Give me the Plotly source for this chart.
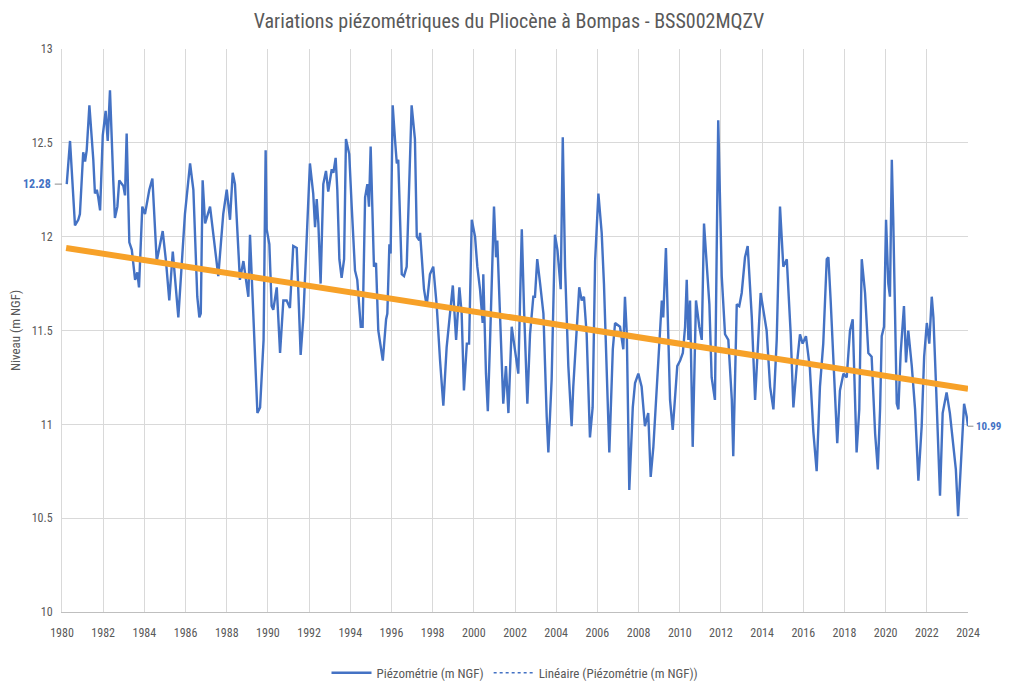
import plotly.graph_objects as go

# --- data ---
years = [
    1980.23, 1980.39, 1980.63, 1980.79, 1980.87, 1981.03, 1981.12, 1981.20, 1981.33, 1981.52,
    1981.60, 1981.69, 1981.76, 1981.85, 1981.98, 1982.12, 1982.22, 1982.33, 1982.49, 1982.57,
    1982.69, 1982.78, 1982.98, 1983.06, 1983.14, 1983.27, 1983.39, 1983.55, 1983.66, 1983.74,
    1983.90, 1984.03, 1984.24, 1984.39, 1984.60, 1984.89, 1985.05, 1985.21, 1985.38, 1985.65,
    1985.97, 1986.22, 1986.38, 1986.57, 1986.67, 1986.74, 1986.83, 1986.95, 1987.19, 1987.59,
    1987.83, 1988.00, 1988.16, 1988.29, 1988.40, 1988.64, 1988.81, 1988.97, 1989.05, 1989.13,
    1989.29, 1989.49, 1989.62, 1989.79, 1989.89, 1989.94, 1990.07, 1990.18, 1990.26, 1990.43,
    1990.59, 1990.75, 1990.91, 1991.07, 1991.23, 1991.40, 1991.59, 1991.72, 1992.04, 1992.20,
    1992.29, 1992.37, 1992.45, 1992.56, 1992.69, 1992.82, 1992.93, 1993.10, 1993.18, 1993.29,
    1993.37, 1993.47, 1993.58, 1993.70, 1993.79, 1993.95, 1994.07, 1994.23, 1994.34, 1994.51,
    1994.60, 1994.72, 1994.83, 1994.91, 1994.99, 1995.09, 1995.15, 1995.25, 1995.36, 1995.58,
    1995.74, 1995.80, 1995.90, 1995.96, 1996.06, 1996.17, 1996.26, 1996.33, 1996.50, 1996.61,
    1996.74, 1996.98, 1997.14, 1997.23, 1997.35, 1997.39, 1997.58, 1997.71, 1997.87, 1998.03,
    1998.20, 1998.36, 1998.52, 1998.68, 1998.98, 1999.14, 1999.30, 1999.41, 1999.52, 1999.66,
    1999.77, 1999.90, 2000.06, 2000.17, 2000.30, 2000.43, 2000.46, 2000.59, 2000.68, 2000.79,
    2000.84, 2000.98, 2001.08, 2001.14, 2001.24, 2001.36, 2001.43, 2001.56, 2001.68, 2001.84,
    2002.00, 2002.08, 2002.16, 2002.24, 2002.33, 2002.44, 2002.60, 2002.73, 2002.89, 2002.97,
    2003.08, 2003.22, 2003.38, 2003.54, 2003.62, 2003.78, 2003.94, 2004.06, 2004.15, 2004.22,
    2004.32, 2004.43, 2004.59, 2004.75, 2004.83, 2005.00, 2005.12, 2005.24, 2005.35, 2005.48,
    2005.64, 2005.77, 2005.89, 2006.05, 2006.21, 2006.32, 2006.45, 2006.58, 2006.75, 2006.86,
    2007.10, 2007.26, 2007.34, 2007.43, 2007.55, 2007.72, 2007.83, 2007.99, 2008.15, 2008.31,
    2008.47, 2008.59, 2008.72, 2008.88, 2009.01, 2009.13, 2009.20, 2009.33, 2009.45, 2009.53,
    2009.66, 2009.77, 2009.88, 2010.02, 2010.15, 2010.26, 2010.34, 2010.42, 2010.50, 2010.63,
    2010.79, 2010.95, 2011.07, 2011.18, 2011.31, 2011.44, 2011.55, 2011.71, 2011.87, 2012.04,
    2012.20, 2012.36, 2012.53, 2012.60, 2012.77, 2012.89, 2013.01, 2013.17, 2013.30, 2013.50,
    2013.66, 2013.82, 2013.93, 2014.06, 2014.22, 2014.39, 2014.55, 2014.71, 2014.87, 2015.03,
    2015.20, 2015.27, 2015.39, 2015.52, 2015.68, 2015.84, 2015.97, 2016.13, 2016.32, 2016.49,
    2016.65, 2016.81, 2016.97, 2017.14, 2017.22, 2017.33, 2017.46, 2017.59, 2017.65, 2017.78,
    2017.95, 2018.11, 2018.27, 2018.40, 2018.51, 2018.59, 2018.72, 2018.84, 2019.00, 2019.16,
    2019.32, 2019.49, 2019.62, 2019.73, 2019.81, 2019.92, 2020.02, 2020.13, 2020.21, 2020.30,
    2020.37, 2020.46, 2020.54, 2020.62, 2020.73, 2020.89, 2020.99, 2021.10, 2021.27, 2021.43,
    2021.59, 2021.75, 2021.87, 2022.00, 2022.12, 2022.24, 2022.32, 2022.45, 2022.56, 2022.64,
    2022.77, 2022.96, 2023.12, 2023.28, 2023.41, 2023.52, 2023.60, 2023.72, 2023.81, 2023.94,
    2024.00,
]

levels = [
    12.28, 12.51, 12.06, 12.09, 12.12, 12.45, 12.40, 12.46, 12.70, 12.41,
    12.23, 12.25, 12.21, 12.14, 12.54, 12.67, 12.51, 12.78, 12.30, 12.10,
    12.16, 12.30, 12.27, 12.22, 12.55, 11.97, 11.93, 11.77, 11.81, 11.73,
    12.16, 12.12, 12.25, 12.31, 11.87, 12.03, 11.87, 11.66, 11.92, 11.57,
    12.12, 12.39, 12.25, 11.68, 11.57, 11.59, 12.30, 12.07, 12.16, 11.79,
    12.12, 12.25, 12.09, 12.34, 12.28, 11.77, 11.87, 11.75, 11.68, 12.01,
    11.61, 11.06, 11.09, 11.45, 12.46, 12.04, 11.96, 11.63, 11.61, 11.73,
    11.38, 11.66, 11.66, 11.62, 11.95, 11.94, 11.37, 11.57, 12.39, 12.23,
    12.05, 12.20, 12.07, 11.75, 12.28, 12.35, 12.24, 12.36, 12.34, 12.42,
    12.25, 11.88, 11.78, 11.88, 12.52, 12.44, 12.16, 11.82, 11.77, 11.52,
    11.52, 12.21, 12.28, 12.16, 12.48, 11.98, 11.84, 11.86, 11.50, 11.34,
    11.56, 11.59, 11.96, 11.91, 12.70, 12.52, 12.39, 12.41, 11.80, 11.79,
    11.84, 12.70, 12.52, 12.00, 11.98, 12.02, 11.72, 11.63, 11.80, 11.84,
    11.63, 11.34, 11.10, 11.41, 11.74, 11.45, 11.73, 11.59, 11.18, 11.43,
    11.43, 12.09, 12.00, 11.84, 11.72, 11.54, 11.80, 11.27, 11.07, 11.45,
    11.68, 12.16, 11.89, 11.98, 11.68, 11.31, 11.11, 11.31, 11.06, 11.52,
    11.40, 11.34, 11.27, 11.63, 12.04, 11.61, 11.11, 11.48, 11.68, 11.68,
    11.88, 11.75, 11.59, 11.04, 10.85, 11.24, 12.01, 11.93, 11.79, 11.72,
    12.53, 11.84, 11.31, 10.99, 11.20, 11.52, 11.73, 11.66, 11.68, 11.48,
    10.93, 11.09, 11.87, 12.23, 12.02, 11.75, 11.31, 10.85, 11.40, 11.54,
    11.52, 11.40, 11.68, 11.48, 10.65, 11.09, 11.22, 11.27, 11.20, 10.99,
    11.06, 10.72, 10.88, 11.17, 11.45, 11.66, 11.57, 11.94, 11.45, 11.13,
    10.97, 11.15, 11.31, 11.34, 11.38, 11.52, 11.77, 11.45, 11.66, 10.88,
    11.66, 11.52, 11.45, 12.07, 11.84, 11.64, 11.25, 11.13, 12.62, 11.79,
    11.48, 11.45, 11.13, 10.83, 11.64, 11.63, 11.70, 11.89, 11.95, 11.57,
    11.13, 11.43, 11.70, 11.61, 11.50, 11.20, 11.08, 11.45, 12.16, 11.84,
    11.88, 11.73, 11.48, 11.09, 11.31, 11.48, 11.43, 11.47, 11.30, 10.96,
    10.75, 11.20, 11.43, 11.88, 11.89, 11.66, 11.33, 11.04, 10.90, 11.18,
    11.27, 11.25, 11.50, 11.56, 11.08, 10.85, 11.08, 11.88, 11.70, 11.38,
    11.36, 10.95, 10.76, 11.08, 11.47, 11.52, 12.09, 11.75, 11.68, 12.41,
    12.09, 11.57, 11.11, 11.08, 11.38, 11.63, 11.33, 11.50, 11.31, 11.08,
    10.70, 10.99, 11.36, 11.54, 11.43, 11.68, 11.57, 11.20, 10.81, 10.62,
    11.06, 11.17, 11.06, 10.90, 10.76, 10.51, 10.69, 10.97, 11.11, 11.04,
    10.99,
]

# linear trend (orange line) end values
trend_years = [1980.2, 2024.0]
trend_levels = [11.94, 11.19]

x_ticks = list(range(1980, 2025, 2))
y_ticks = [10, 10.5, 11, 11.5, 12, 12.5, 13]
y_tick_text = ["10", "10.5", "11", "11.5", "12", "12.5", "13"]
first_label = "12.28"
last_label = "10.99"

title_text = "Variations piézométriques du Pliocène à Bompas - BSS002MQZV"
series_name = "Piézométrie (m NGF)"
trend_name = "Linéaire (Piézométrie (m NGF))"
y_title = "Niveau (m NGF)"

FONT = "Roboto Condensed, Liberation Sans Narrow, Arial Narrow, Roboto, sans-serif"
GREY = "#595959"
BLUE = "#4472C4"
ORANGE = "#F7A128"

fig = go.Figure()

fig.add_trace(go.Scatter(
    x=years, y=levels, mode="lines", name=series_name,
    line=dict(color=BLUE, width=2.4),
))
# legend-only entry for the dotted Excel trendline
fig.add_trace(go.Scatter(
    x=[None], y=[None], mode="lines", name=trend_name,
    line=dict(color=BLUE, width=1.5, dash="dot"),
))
# orange trend line drawn over the series
fig.add_trace(go.Scatter(
    x=trend_years, y=trend_levels, mode="lines", showlegend=False,
    line=dict(color=ORANGE, width=6),
))

# labels for first and last values
fig.add_annotation(
    x=0, y=float(first_label), xref="paper", yref="y",
    text="<b>" + first_label + "</b>", showarrow=False,
    xanchor="right", xshift=-9, font=dict(family=FONT, size=12, color=BLUE),
)
fig.add_annotation(
    x=1, y=float(last_label), xref="paper", yref="y",
    text="<b>" + last_label + "</b>", showarrow=False,
    xanchor="left", xshift=6, font=dict(family=FONT, size=11, color=BLUE),
)
fig.add_shape(type="line", xref="paper", yref="y", x0=-0.008, x1=0, y0=float(first_label),
              y1=float(first_label), line=dict(color="#8C8C8C", width=1))
fig.add_shape(type="line", xref="paper", yref="y", x0=1, x1=1.006, y0=float(last_label),
              y1=float(last_label), line=dict(color="#8C8C8C", width=1))

# the page body adds an 8 px offset, so the figure is 8 px smaller on each axis
fig.update_layout(
    width=1002, height=675,
    paper_bgcolor="white", plot_bgcolor="white",
    margin=dict(l=54, r=42, t=41, b=71, autoexpand=False),
    title=dict(text=title_text, x=0.5, xanchor="center", y=0.981, yanchor="middle",
               font=dict(family=FONT, size=20, color=GREY)),
    font=dict(family=FONT, size=12, color=GREY),
    showlegend=True,
    legend=dict(orientation="h", x=0.5, xanchor="center", y=-0.108, yanchor="middle",
                itemwidth=40, font=dict(family=FONT, size=13, color=GREY)),
    xaxis=dict(range=[1980, 2024], tickmode="array", tickvals=x_ticks,
               ticktext=[str(t) for t in x_ticks], automargin=False,
               showgrid=True, gridcolor="#D9D9D9", gridwidth=1,
               showline=True, linecolor="#BFBFBF", linewidth=1, mirror=False,
               zeroline=False, ticks="", ticklabelstandoff=10,
               tickfont=dict(size=12, color=GREY)),
    yaxis=dict(range=[10, 13], tickmode="array", tickvals=y_ticks,
               ticktext=y_tick_text, automargin=False,
               showgrid=True, gridcolor="#D9D9D9", gridwidth=1,
               showline=True, linecolor="#D9D9D9", linewidth=1,
               zeroline=False, ticks="", ticklabelstandoff=6,
               title=dict(text=y_title, standoff=14, font=dict(size=13, color=GREY)),
               tickfont=dict(size=12, color=GREY)),
)

fig.write_html("out.html")
